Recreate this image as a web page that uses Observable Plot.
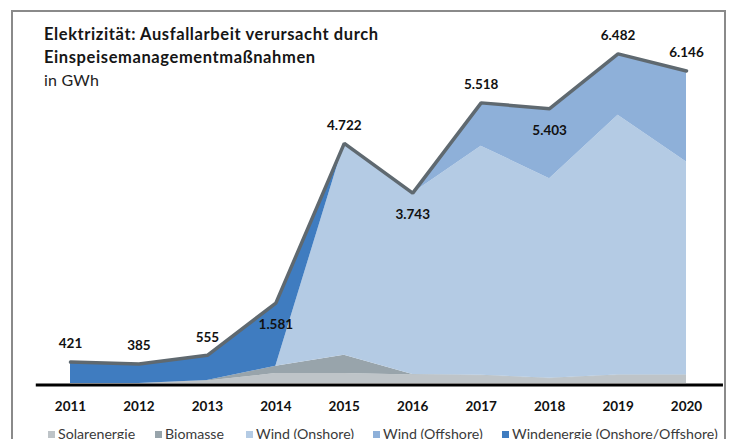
<!DOCTYPE html>
<html><head><meta charset="utf-8">
<script src="https://cdn.jsdelivr.net/npm/d3@7"></script>
<script src="https://cdn.jsdelivr.net/npm/@observablehq/plot@0.6"></script>
<style>
html,body{margin:0;padding:0;background:#fff;}
body{width:733px;height:439px;overflow:hidden;position:relative;font-family:Lato,"Open Sans",sans-serif;}
#frame{position:absolute;left:11px;top:10px;width:714.5px;height:540px;border:2.5px solid #8a8a8a;box-sizing:border-box;}
#title{position:absolute;left:44px;top:23px;font-weight:700;font-size:16.5px;line-height:23px;color:#161616;letter-spacing:0.6px;}
#sub{position:absolute;left:44px;top:70px;font-size:16px;color:#222;letter-spacing:0.2px;}
#chart{position:absolute;left:0;top:0;}
#legend{position:absolute;left:0;top:426px;width:733px;height:20px;font-size:14.2px;color:#3a3a3a;white-space:nowrap;line-height:16px;}
#legend .item{position:absolute;top:0;display:flex;align-items:center;}
#legend .sw{display:inline-block;width:7px;height:7px;margin-right:3px;}
</style></head>
<body>
<div id="frame"></div>
<div id="chart"></div>
<div id="title">Elektrizität: Ausfallarbeit verursacht durch<br>Einspeisemanagementmaßnahmen</div>
<div id="sub">in GWh</div>
<div id="legend"></div>
<script>
const years = [2011, 2012, 2013, 2014, 2015, 2016, 2017, 2018, 2019, 2020];
const solarenergie = [0, 0, 50, 195, 195, 165, 150, 95, 155, 155];
const biomasse = [0, 0, 10, 145, 360, 12, 13, 9, 14, 14];
const windOnshore = [0, 0, 0, 0, 4166, 3566, 4504, 3923, 5107, 4184];
const windOffshore = [0, 0, 0, 0, 0, 0, 851, 1376, 1206, 1793];
const windenergieGesamt = [421, 385, 495, 1241, 0, 0, 0, 0, 0, 0];
const gesamt = [421, 385, 555, 1581, 4722, 3743, 5518, 5403, 6482, 6146];
const seriesNames = ["Solarenergie", "Biomasse", "Wind (Onshore)", "Wind (Offshore)", "Windenergie (Onshore/Offshore)"];
const seriesColors = ["#bec4c8", "#98a4ab", "#b4cbe4", "#8eb0d9", "#3f7cc0"];

const seriesValues = [solarenergie, biomasse, windOnshore, windOffshore, windenergieGesamt];
const rows = seriesNames.flatMap((s, i) => years.map((yr, j) => ({year: yr, series: s, value: seriesValues[i][j]})));
const totals = years.map((yr, j) => ({year: yr, total: gesamt[j]}));
const de = d3.formatLocale({decimal: ",", thousands: ".", grouping: [3], currency: ["", "€"]});
const fmt = de.format(",d");
const below = new Set([2014, 2016, 2018]);

const chart = Plot.plot({
  width: 733, height: 439,
  marginLeft: 70, marginRight: 47, marginTop: 27, marginBottom: 56,
  x: {domain: [2011, 2020], axis: null},
  y: {domain: [0, 7000], axis: null},
  color: {domain: seriesNames, range: seriesColors},
  style: {background: "transparent", overflow: "visible", fontFamily: "Lato, 'Open Sans', sans-serif"},
  marks: [
    Plot.areaY(rows, {x: "year", y: "value", fill: "series", order: seriesNames}),
    Plot.ruleY([0], {x1: 2010.5, x2: 2020.54, stroke: "#000", strokeWidth: 3, dy: 1.5}),
    Plot.lineY(totals, {x: "year", y: "total", stroke: "#5f6970", strokeWidth: 3.5, strokeLinejoin: "miter"}),
    Plot.text(totals.filter(d => !below.has(d.year)), {x: "year", y: "total", text: d => fmt(d.total), dy: -18, fontWeight: "bold", fontSize: 13.5, fill: "#111"}),
    Plot.text(totals.filter(d => below.has(d.year)), {x: "year", y: "total", text: d => fmt(d.total), dy: 22, fontWeight: "bold", fontSize: 13.5, fill: "#111"}),
    Plot.text(years, {x: d => d, y: 0, text: d => String(d), dy: 23, fontWeight: "bold", fontSize: 13.5, fill: "#111"})
  ]
});
document.getElementById("chart").appendChild(chart);

const legend = document.getElementById("legend");
const legendLeft = [48, 155, 246, 373, 502];
seriesNames.forEach((s, i) => {
  const item = document.createElement("span");
  item.className = "item";
  item.style.left = legendLeft[i] + "px";
  const sw = document.createElement("span");
  sw.className = "sw";
  sw.style.background = seriesColors[i];
  item.appendChild(sw);
  item.appendChild(document.createTextNode(s));
  legend.appendChild(item);
});
</script>
</body></html>
